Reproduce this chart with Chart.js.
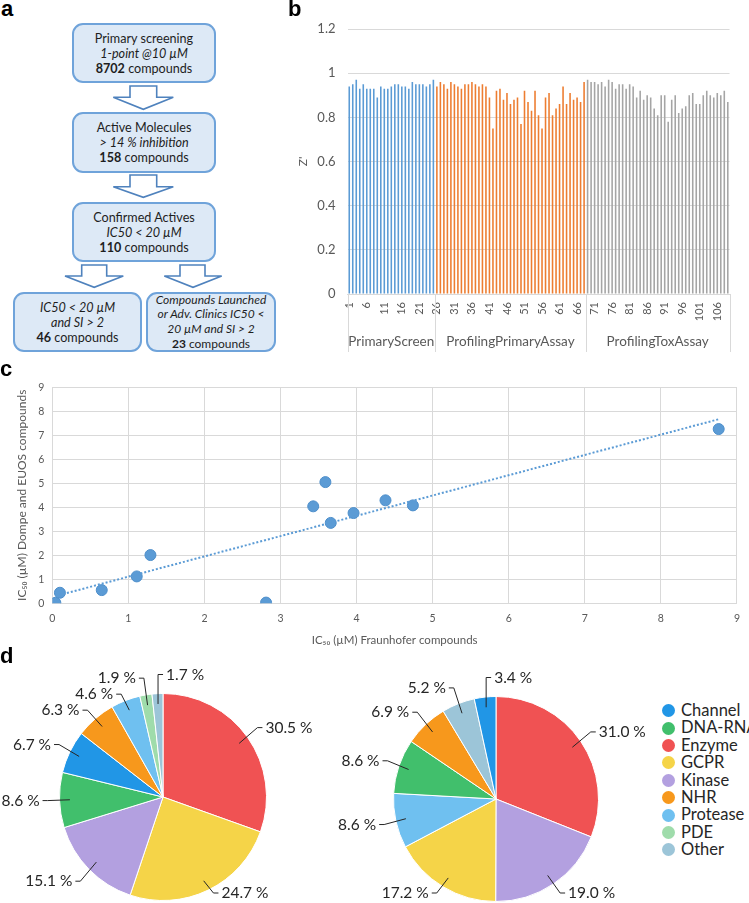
<!DOCTYPE html>
<html><head><meta charset="utf-8">
<script src="https://cdn.jsdelivr.net/npm/chart.js@4.4.1/dist/chart.umd.min.js"></script>
<style>
html,body{margin:0;padding:0;background:#fff;}
body{width:749px;height:903px;position:relative;overflow:hidden;font-family:Lato,"Open Sans",sans-serif;}
.plab{position:absolute;font:bold 22px "Liberation Sans",Arial,sans-serif;line-height:22px;color:#000;z-index:5;}
.box{position:absolute;box-sizing:border-box;border:2px solid #6fa3da;border-radius:11px;background:#dde9f6;text-align:center;font-size:12.6px;line-height:15px;color:#1e1e1e;display:flex;flex-direction:column;justify-content:center;}
.box i{font-style:italic}
canvas{position:absolute}
#legend{position:absolute;left:662px;top:702px;font-size:16.5px;color:#262626;}
#legend div{height:17.4px;line-height:17.4px;position:relative;padding-left:19px;white-space:nowrap}
#legend span{position:absolute;left:0;top:2.2px;width:13px;height:13px;border-radius:50%}
</style></head>
<body>
<div class="plab" style="left:1px;top:-2px">a</div>
<div class="plab" style="left:288px;top:-2px">b</div>
<div class="plab" style="left:0px;top:358px">c</div>
<div class="plab" style="left:0px;top:645px">d</div>

<div class="box" style="left:72px;top:23px;width:144px;height:60px"><div>Primary screening</div><div><i>1-point @10 µM</i></div><div><b>8702</b> compounds</div></div>
<div class="box" style="left:72px;top:112px;width:144px;height:61px"><div>Active Molecules</div><div><i>&gt; 14 % inhibition</i></div><div><b>158</b> compounds</div></div>
<div class="box" style="left:72px;top:202px;width:144px;height:60px"><div>Confirmed Actives</div><div><i>IC50 &lt; 20 µM</i></div><div><b>110</b> compounds</div></div>
<div class="box" style="left:13px;top:292px;width:129px;height:60px"><div><i>IC50 &lt; 20 µM</i></div><div><i>and SI &gt; 2</i></div><div><b>46</b> compounds</div></div>
<div class="box" style="left:146px;top:292px;width:130px;height:60px;line-height:14.6px;font-size:12px"><div><i>Compounds Launched</i></div><div><i>or Adv. Clinics IC50 &lt;</i></div><div><i>20 µM and SI &gt; 2</i></div><div><b>23</b> compounds</div></div>
<svg style="position:absolute;left:0;top:0" width="290" height="300">
<g fill="#fff" stroke="#4f82bd" stroke-width="1.6" stroke-linejoin="miter">
<path d="M130,86 L156.7,86 L156.7,97.3 L173.3,97.3 L143.3,109.3 L113.3,97.3 L130,97.3 Z"/>
<path d="M130,175 L156.7,175 L156.7,186.7 L173.3,186.7 L143.3,197.3 L113.3,186.7 L130,186.7 Z"/>
<path d="M81.7,265 L106.7,265 L106.7,276 L123.3,276 L94.2,287.3 L65,276 L81.7,276 Z"/>
<path d="M180,265 L205,265 L205,276 L221.7,276 L193,287.3 L164.3,276 L180,276 Z"/>
</g></svg>

<canvas id="bar" width="459" height="360" style="left:290px;top:0px"></canvas>
<canvas id="scatter" width="749" height="282" style="left:0px;top:372px"></canvas>
<canvas id="pieL" width="326" height="243" style="left:0px;top:660px"></canvas>
<canvas id="pieR" width="322" height="243" style="left:335px;top:660px"></canvas>
<div id="legend"></div>

<script>
// ---------- Panel b data: Z' per plate ----------
const primaryScreen = [0.94,0.95,0.97,0.93,0.95,0.93,0.93,0.93,0.89,0.94,0.93,0.93,0.94,0.95,0.95,0.94,0.94,0.93,0.96,0.95,0.95,0.95,0.94,0.95,0.97];
const profilingPrimaryAssay = [0.94,0.96,0.95,0.93,0.96,0.95,0.94,0.93,0.95,0.95,0.96,0.95,0.94,0.95,0.94,
  0.89,0.75,0.92,0.93,0.88,0.91,0.86,0.88,0.89,0.77,
  0.92,0.87,0.83,0.92,0.81,0.75,0.89,0.91,0.81,0.84,
  0.86,0.94,0.86,0.91,0.88,0.89,0.87,0.96];
const profilingToxAssay = [0.97,0.96,0.96,0.95,0.96,0.94,0.97,0.96,0.93,0.95,
  0.95,0.93,0.95,0.94,0.89,0.92,0.88,0.90,0.89,0.84,
  0.81,0.90,0.90,0.78,0.88,0.90,0.82,0.84,0.85,0.90,
  0.91,0.86,0.86,0.90,0.92,0.90,0.89,0.91,0.90,0.92,0.87];
const groupNames = ['PrimaryScreen','ProfilingPrimaryAssay','ProfilingToxAssay'];
const zTickLabels = ['0','0.2','0.4','0.6','0.8','1','1.2'];

// ---------- Panel c data ----------
const fraunhoferIC50 = [0.04,0.10,0.65,1.11,1.29,2.81,3.43,3.59,3.66,3.96,4.38,4.74,8.76];
const dompeEuosIC50  = [0.02,0.44,0.55,1.12,2.01,0.03,4.04,5.05,3.35,3.76,4.29,4.08,7.26];

// ---------- Panel d data ----------
const targetClasses = ['Channel','DNA-RNA','Enzyme','GCPR','Kinase','NHR','Protease','PDE','Other'];
const leftPieClasses = ['Enzyme','GCPR','Kinase','DNA-RNA','Channel','NHR','Protease','PDE','Other'];
const leftPieValues  = [30.5,24.7,15.1,8.6,6.7,6.3,4.6,1.9,1.7];
const rightPieClasses = ['Enzyme','Kinase','GCPR','Protease','DNA-RNA','NHR','Other','Channel'];
const rightPieValues  = [31.0,19.0,17.2,8.6,8.6,6.9,5.2,3.4];

// ---------- styles ----------
const groupColors = ['#5b9bd5','#ed7d31','#a5a5a5'];
const classColors = {'Channel':'#2196e6','DNA-RNA':'#41bf6c','Enzyme':'#f05253','GCPR':'#f5d448','Kinase':'#b3a0e0','NHR':'#f7981c','Protease':'#6fc0f0','PDE':'#9fdcab','Other':'#9cc5d8'};
const axisGray = '#595959', gridGray = '#d9d9d9';
const FONT = 'Lato, "Open Sans", sans-serif';
Chart.defaults.font.family = FONT;
Chart.defaults.color = axisGray;

// ---------- Panel b ----------
const groups = [primaryScreen, profilingPrimaryAssay, profilingToxAssay];
const zValues = [].concat(...groups);
const barColors = [].concat(...groups.map((g, gi) => g.map(() => groupColors[gi])));
const plateLabels = zValues.map((_, i) => String(i + 1));

const groupPlugin = {
  id: 'groupAxis',
  afterDraw(chart) {
    const {ctx, chartArea, scales: {x}} = chart;
    ctx.save();
    ctx.strokeStyle = gridGray; ctx.lineWidth = 1;
    ctx.fillStyle = axisGray; ctx.font = '13.5px ' + FONT;
    ctx.textAlign = 'center'; ctx.textBaseline = 'middle';
    const bounds = [chartArea.left];
    let idx = 0;
    groups.forEach((g, gi) => {
      idx += g.length;
      bounds.push(gi === groups.length - 1 ? chartArea.right : (x.getPixelForValue(idx - 1) + x.getPixelForValue(idx)) / 2);
    });
    bounds.forEach(b => {
      ctx.beginPath(); ctx.moveTo(Math.round(b) + 0.5, chartArea.bottom); ctx.lineTo(Math.round(b) + 0.5, chartArea.bottom + 58); ctx.stroke();
    });
    groupNames.forEach((n, gi) => ctx.fillText(n, (bounds[gi] + bounds[gi + 1]) / 2, chartArea.bottom + 48));
    ctx.restore();
  }
};

new Chart(document.getElementById('bar'), {
  type: 'bar',
  data: {labels: plateLabels, datasets: [{data: zValues, backgroundColor: barColors, barPercentage: 0.45, categoryPercentage: 1}]},
  options: {
    responsive: false, animation: false,
    layout: {padding: {top: 29, right: 2, left: 0, bottom: 0}},
    plugins: {legend: {display: false}, tooltip: {enabled: false}},
    scales: {
      x: {
        grid: {display: false, drawTicks: false},
        border: {color: gridGray},
        ticks: {autoSkip: false, minRotation: 90, maxRotation: 90, padding: 8, font: {size: 11}, color: axisGray,
          callback: (v, i) => (i % 5 === 0 ? plateLabels[i] : '')},
        afterFit: s => { s.height = 66; }
      },
      y: {
        min: 0, max: 1.2,
        grid: {color: gridGray, drawTicks: false},
        border: {display: false},
        ticks: {stepSize: 0.2, padding: 12, font: {size: 13}, color: axisGray,
          callback: (v, i) => zTickLabels[i]},
        title: {display: true, text: "Z'", font: {size: 12}, color: axisGray, padding: {top: 6, bottom: 0}},
        afterFit: s => { s.width = 57.5; }
      }
    }
  },
  plugins: [groupPlugin]
});

// ---------- Panel c ----------
const n = fraunhoferIC50.length;
const mx = fraunhoferIC50.reduce((a, b) => a + b, 0) / n;
const my = dompeEuosIC50.reduce((a, b) => a + b, 0) / n;
let sxy = 0, sxx = 0;
for (let i = 0; i < n; i++) { sxy += (fraunhoferIC50[i] - mx) * (dompeEuosIC50[i] - my); sxx += (fraunhoferIC50[i] - mx) ** 2; }
const slope = sxy / sxx, intercept = my - slope * mx;
const xMin = Math.min(...fraunhoferIC50), xMax = Math.max(...fraunhoferIC50);

new Chart(document.getElementById('scatter'), {
  type: 'scatter',
  data: {datasets: [
    {type: 'line', data: [{x: xMin, y: intercept + slope * xMin}, {x: xMax, y: intercept + slope * xMax}],
      borderColor: '#5b9bd5', borderWidth: 2, borderDash: [2, 2], pointRadius: 0, fill: false},
    {data: fraunhoferIC50.map((x, i) => ({x, y: dompeEuosIC50[i]})),
      backgroundColor: '#5b9bd5', borderColor: '#4e8fcb', borderWidth: 1, pointRadius: 5.5}
  ]},
  options: {
    responsive: false, animation: false,
    layout: {padding: {top: 15.3, right: 2.5, left: 0, bottom: 0}},
    plugins: {legend: {display: false}, tooltip: {enabled: false}},
    scales: {
      x: {type: 'linear', min: 0, max: 9,
        grid: {color: gridGray, drawTicks: false}, border: {color: gridGray},
        ticks: {stepSize: 1, padding: 9, font: {size: 10.5}, color: axisGray},
        title: {display: true, text: 'IC₅₀ (µM) Fraunhofer compounds', font: {size: 11.5}, color: axisGray, padding: {top: 0, bottom: 7}},
        afterFit: s => { s.height = 50.7; }
      },
      y: {min: 0, max: 9,
        grid: {color: gridGray, drawTicks: false}, border: {color: gridGray},
        ticks: {stepSize: 1, padding: 8, font: {size: 10.5}, color: axisGray},
        title: {display: true, text: 'IC₅₀ (µM) Dompe and EUOS compounds', font: {size: 12}, color: axisGray, padding: {top: 15, bottom: 0}},
        afterFit: s => { s.width = 52.3; }
      }
    }
  }
});

// ---------- Panel d ----------
const pieLabelPlugin = {
  id: 'pieLabels',
  afterDraw(chart) {
    const ctx = chart.ctx, meta = chart.getDatasetMeta(0), vals = chart.data.datasets[0].data;
    const H = chart.height;
    ctx.save();
    ctx.font = '15.5px ' + FONT;
    ctx.textBaseline = 'middle';
    ctx.strokeStyle = '#262626'; ctx.fillStyle = '#262626'; ctx.lineWidth = 1;
    const items = meta.data.map((arc, i) => {
      const p = arc.getProps(['x', 'y', 'startAngle', 'endAngle', 'outerRadius'], true);
      const mid = (p.startAngle + p.endAngle) / 2;
      const dx = Math.cos(mid), dy = Math.sin(mid);
      const R = p.outerRadius;
      const top = Math.abs(dx) < 0.15 && dy < 0;
      const ax = p.x + dx * (R + 12), ay = p.y + dy * (R + 12);
      return {text: vals[i].toFixed(1) + ' %', top, dx, dy, cx: p.x, cy: p.y, R, ax, ay,
        side: top ? 1 : (dx >= 0 ? 1 : -1), ty: top ? p.y - R - 19 : ay + dy * 5};
    });
    [-1, 1].forEach(side => {
      const g = items.filter(it => !it.top && it.side === side).sort((a, b) => a.ty - b.ty);
      for (let k = 1; k < g.length; k++) if (g[k].ty < g[k - 1].ty + 16) g[k].ty = g[k - 1].ty + 16;
      for (let k = g.length - 1; k >= 0; k--) {
        const lim = k === g.length - 1 ? H - 10 : g[k + 1].ty - 16;
        if (g[k].ty > lim) g[k].ty = lim;
      }
    });
    items.forEach(it => {
      const x0 = it.cx + it.dx * it.R * 0.9, y0 = it.cy + it.dy * it.R * 0.9;
      ctx.beginPath(); ctx.moveTo(x0, y0);
      let tx;
      if (it.top) {
        ctx.lineTo(x0, it.ty); ctx.lineTo(x0 + 5, it.ty); tx = x0 + 8; ctx.textAlign = 'left';
      } else {
        ctx.lineTo(it.ax, it.ty); ctx.lineTo(it.ax + it.side * 5, it.ty); tx = it.ax + it.side * 8;
        ctx.textAlign = it.side > 0 ? 'left' : 'right';
      }
      ctx.stroke();
      ctx.fillText(it.text, tx, it.ty);
    });
    ctx.restore();
  }
};

function makePie(id, classes, values, padding) {
  return new Chart(document.getElementById(id), {
    type: 'pie',
    data: {labels: classes, datasets: [{data: values, backgroundColor: classes.map(c => classColors[c]), borderColor: '#ffffff', borderWidth: 1}]},
    options: {responsive: false, animation: false, layout: {padding},
      plugins: {legend: {display: false}, tooltip: {enabled: false}}},
    plugins: [pieLabelPlugin]
  });
}
makePie('pieL', leftPieClasses, leftPieValues, {top: 33, bottom: 2, left: 0, right: 0});
makePie('pieR', rightPieClasses, rightPieValues, {top: 36, bottom: 1, left: 0, right: 0});

const legend = document.getElementById('legend');
targetClasses.forEach(c => {
  const d = document.createElement('div');
  const s = document.createElement('span');
  s.style.background = classColors[c];
  d.appendChild(s);
  d.appendChild(document.createTextNode(c));
  legend.appendChild(d);
});
</script>
</body></html>
